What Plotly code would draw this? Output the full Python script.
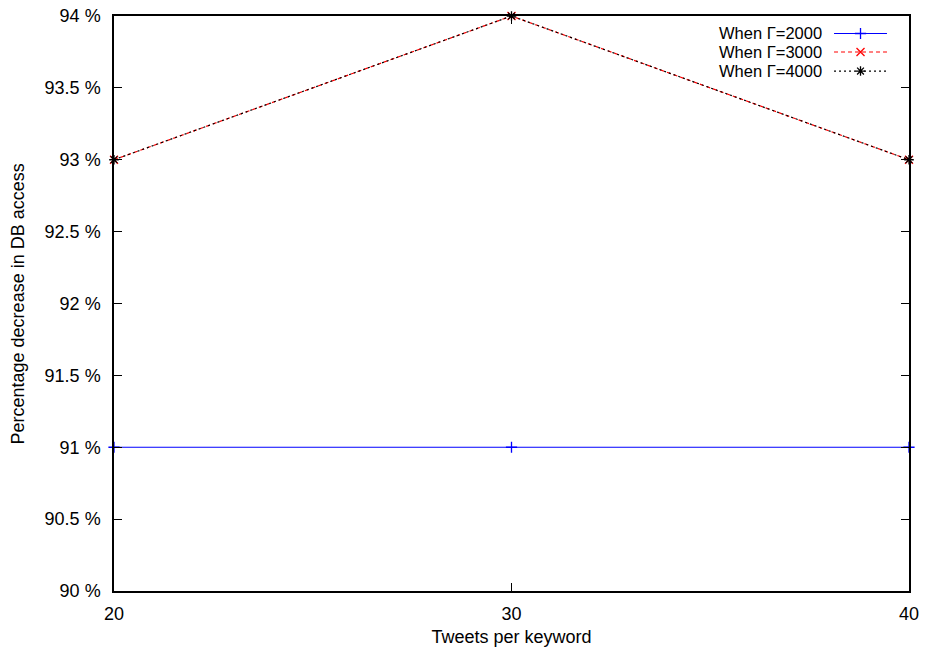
import plotly.graph_objects as go

# Tweets per keyword
tweets = [20, 30, 40]

# Percentage decrease in DB access for each Γ setting
gamma_labels = ["When \u0393=2000", "When \u0393=3000", "When \u0393=4000"]
decrease_2000 = [91, 91, 91]
decrease_3000 = [93, 94, 93]
decrease_4000 = [93, 94, 93]

y_ticks = [90, 90.5, 91, 91.5, 92, 92.5, 93, 93.5, 94]
y_ticktext = [f"{v:g} %" for v in y_ticks]

series = [
    (gamma_labels[0], decrease_2000, "#0000ff", "solid", "cross-thin-open"),
    (gamma_labels[1], decrease_3000, "#ff0000", "4px,3px", "x-thin-open"),
    (gamma_labels[2], decrease_4000, "#000000", "2px,3px", "asterisk-open"),
]

FONT = "Liberation Sans, Arial, sans-serif"
FS = 18
KEY_FS = 16.5

fig = go.Figure()
for name, vals, color, dash, sym in series:
    fig.add_trace(go.Scatter(
        x=tweets, y=vals, mode="lines+markers", name=name,
        line=dict(color=color, width=1.2, dash=dash),
        marker=dict(symbol=sym, size=8, color=color, line=dict(color=color, width=1.3)),
        showlegend=False, cliponaxis=False,
    ))

# Key in the upper right: text right-aligned, sample line to its right
key_rows = [0.9696, 0.9374, 0.9043]
for (name, vals, color, dash, sym), ky in zip(series, key_rows):
    fig.add_trace(go.Scatter(
        x=[0.9057, 0.9723], y=[ky, ky], mode="lines", xaxis="x2", yaxis="y2",
        line=dict(color=color, width=1.2, dash=dash), showlegend=False, hoverinfo="skip",
    ))
    fig.add_trace(go.Scatter(
        x=[0.939], y=[ky], mode="markers", xaxis="x2", yaxis="y2",
        marker=dict(symbol=sym, size=8, color=color, line=dict(color=color, width=1.3)),
        showlegend=False, hoverinfo="skip",
    ))
    fig.add_annotation(
        x=0.892, y=ky, xref="x2", yref="y2", text=name, showarrow=False,
        xanchor="right", yanchor="middle", borderpad=0,
        font=dict(family=FONT, size=KEY_FS, color="black"),
    )

# Y-axis title, placed at the left edge of the page
fig.add_annotation(
    x=-0.1208, y=0.5, xref="paper", yref="paper", text="Percentage decrease in DB access",
    textangle=-90, showarrow=False, xanchor="center", yanchor="middle",
    font=dict(family=FONT, size=FS, color="black"),
)

axis_common = dict(
    showgrid=False, zeroline=False, showline=True, linecolor="black", linewidth=1.5,
    mirror="ticks", ticks="inside", ticklen=8, tickwidth=1, tickcolor="black",
    tickfont=dict(family=FONT, size=FS, color="black"), automargin=False,
)

fig.update_layout(
    width=925, height=650,
    margin=dict(l=114, r=16, t=16, b=59),
    paper_bgcolor="white", plot_bgcolor="white",
    font=dict(family=FONT, size=FS, color="black"),
    xaxis=dict(
        range=[20, 40], tickvals=tweets, ticklabelstandoff=6,
        title=dict(text="Tweets per keyword", standoff=7, font=dict(family=FONT, size=FS)),
        **axis_common,
    ),
    yaxis=dict(
        range=[90, 94], tickvals=y_ticks, ticktext=y_ticktext, ticklabelstandoff=8,
        **axis_common,
    ),
    xaxis2=dict(range=[0, 1], overlaying="x", visible=False, fixedrange=True),
    yaxis2=dict(range=[0, 1], overlaying="y", visible=False, fixedrange=True),
)

fig.write_html("out.html")
